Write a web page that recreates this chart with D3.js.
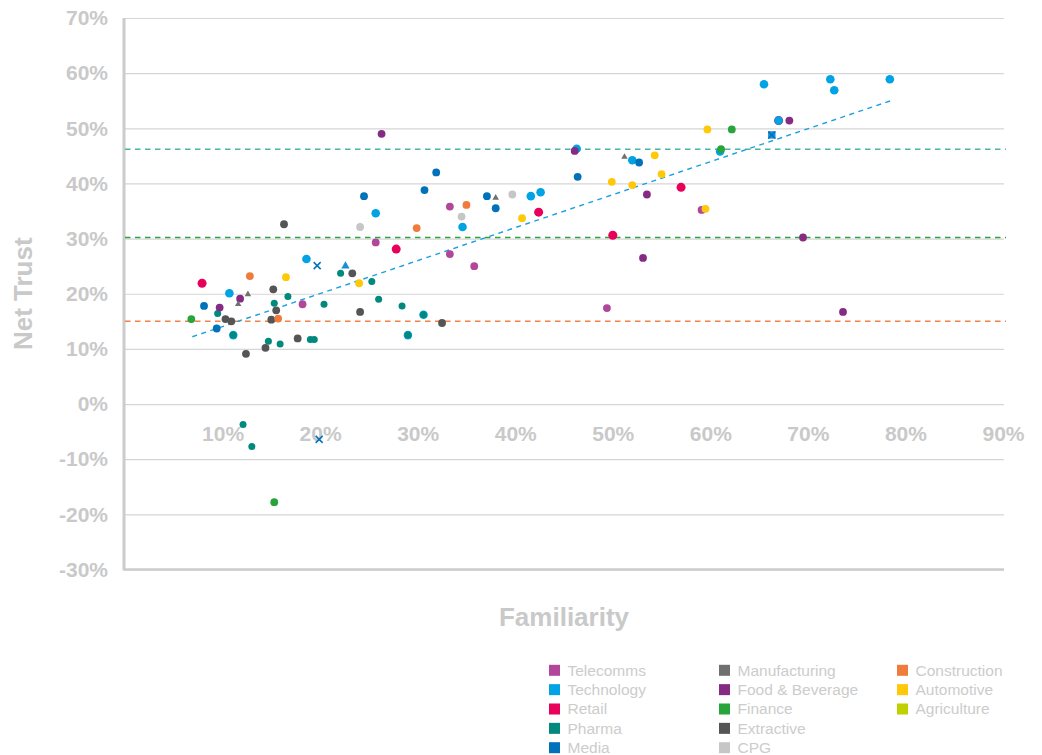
<!DOCTYPE html>
<html>
<head>
<meta charset="utf-8">
<script src="https://cdn.jsdelivr.net/npm/d3@7"></script>
<style>
  body { margin: 0; background: #fff; }
  svg { font-family: "Liberation Sans", Arial, Helvetica, sans-serif; }
</style>
</head>
<body>
<div id="chart"></div>
<script>
// values: [familiarity %, net trust %]
const telecomms = [[18.2, 18.1], [25.7, 29.3], [33.3, 35.8], [33.3, 27.2], [35.8, 25.0], [59.1, 35.2], [49.4, 17.4]];
const technology = [[18.6, 26.3], [10.7, 20.1], [25.7, 34.6], [34.6, 32.1], [41.6, 37.7], [42.6, 38.4], [46.3, 46.3],
  [52.0, 44.2], [61.0, 45.8], [65.5, 58.0], [72.3, 58.9], [72.7, 56.9], [78.4, 58.9], [67.0, 51.4],
  [11.1, 12.5], [30.6, 16.2], [29.0, 12.5]];
const retail = [[7.9, 21.9], [27.8, 28.1], [42.4, 34.8], [50.0, 30.6], [57.0, 39.3], [67.0, 51.4]];
const pharma = [[22.1, 23.7], [25.3, 22.2], [16.7, 19.5], [15.3, 18.3], [20.4, 18.1], [26.0, 19.0], [9.5, 16.4],
  [14.7, 11.4], [15.9, 10.9], [19.0, 11.7], [19.4, 11.7], [28.4, 17.8], [30.6, 16.2], [29.0, 12.5],
  [11.1, 12.5], [12.1, -3.7], [13.0, -7.7]];
const media = [[8.1, 17.8], [9.4, 13.7], [24.5, 37.7], [30.7, 38.8], [31.9, 42.0], [37.1, 37.7], [38.0, 35.5],
  [46.4, 41.2], [52.7, 43.8]];
const manufacturing = [[12.6, 19.9], [11.6, 18.1], [38.0, 37.4], [51.2, 44.8]];
const foodBeverage = [[11.8, 19.1], [9.7, 17.5], [26.3, 49.0], [46.1, 45.9], [53.5, 38.0], [53.1, 26.5],
  [68.1, 51.4], [69.5, 30.2], [73.6, 16.7]];
const finance = [[6.8, 15.4], [15.3, -17.8], [62.2, 49.8], [61.1, 46.2]];
const extractive = [[23.3, 23.7], [15.2, 20.8], [15.5, 17.0], [24.1, 16.7], [10.3, 15.4], [10.9, 15.0], [15.0, 15.3],
  [17.7, 11.9], [14.4, 10.2], [12.4, 9.1], [16.3, 32.6], [32.5, 14.7]];
const cpg = [[24.1, 32.1], [34.5, 34.0], [39.7, 38.0]];
const construction = [[12.8, 23.2], [15.7, 15.5], [29.9, 31.9], [35.0, 36.1]];
const automotive = [[16.5, 23.0], [24.0, 21.9], [40.7, 33.7], [49.9, 40.3], [52.0, 39.7], [54.3, 45.1],
  [55.0, 41.7], [59.7, 49.8], [59.5, 35.4]];
const agriculture = [];

// odd markers
const techTriangle = [[22.6, 25.0]];
const techSquare = [[66.3, 48.8]];
const mediaCross = [[19.7, 25.1], [19.9, -6.4], [66.3, 48.8]];

const sectors = ["Telecomms", "Technology", "Retail", "Pharma", "Media", "Manufacturing",
  "Food & Beverage", "Finance", "Extractive", "CPG", "Construction", "Automotive", "Agriculture"];
const sectorColors = ["#b0479a", "#00a3e3", "#e8005a", "#008a7d", "#0072b9", "#707070",
  "#862b84", "#27a43a", "#555555", "#c6c6c6", "#ef7c3c", "#ffc90a", "#bfd000"];

const xTicks = [10, 20, 30, 40, 50, 60, 70, 80, 90];
const yTicks = [-30, -20, -10, 0, 10, 20, 30, 40, 50, 60, 70];

// benchmark lines and trend line
const refValues = [46.2, 30.2, 15.0];
const refColors = ["#4bb3a6", "#2fa33e", "#f0824a"];
const trendX = [6.9, 78.5];
const trendY = [12.2, 55.0];

const width = 1042, height = 755;
const plotLeft = 124, plotRight = 1004, plotTop = 18, plotBottom = 569.5;
const textGrey = "#c9c9c9";

const svg = d3.select("#chart").append("svg")
  .attr("width", width)
  .attr("height", height);

const x = d3.scaleLinear().domain([0, 90]).range([plotLeft + 1, plotRight - 1]);
const y = d3.scaleLinear().domain([-30, 70]).range([plotBottom, plotTop]);

// gridlines
svg.append("g")
  .attr("transform", `translate(${plotLeft},0)`)
  .call(d3.axisLeft(y).tickValues(yTicks).tickSize(-(plotRight - plotLeft)).tickFormat(""))
  .call(g => g.select(".domain").remove())
  .call(g => g.selectAll("line").attr("stroke", "#d6d6d6").attr("stroke-width", 1.2));

// frame: left and bottom
svg.append("line")
  .attr("x1", plotLeft).attr("x2", plotLeft).attr("y1", plotTop).attr("y2", plotBottom + 1)
  .attr("stroke", "#cccccc").attr("stroke-width", 3);
svg.append("line")
  .attr("x1", plotLeft).attr("x2", plotRight).attr("y1", plotBottom).attr("y2", plotBottom)
  .attr("stroke", "#cccccc").attr("stroke-width", 2.5);

// y labels
svg.append("g")
  .attr("transform", `translate(${plotLeft},0)`)
  .call(d3.axisLeft(y).tickValues(yTicks).tickSize(0).tickPadding(16).tickFormat(d => d + "%"))
  .call(g => g.select(".domain").remove())
  .call(g => g.selectAll("text")
    .attr("fill", textGrey)
    .style("font-size", "21px")
    .style("font-weight", "bold"));

// x labels sit just under the zero line
svg.append("g")
  .attr("transform", `translate(0,${y(0)})`)
  .call(d3.axisBottom(x).tickValues(xTicks).tickSize(0).tickPadding(22).tickFormat(d => d + "%"))
  .call(g => g.select(".domain").remove())
  .call(g => g.selectAll("text")
    .attr("fill", textGrey)
    .style("font-size", "21px")
    .style("font-weight", "bold"));

// benchmark dashed lines
svg.append("g").selectAll("line")
  .data(refValues)
  .join("line")
  .attr("x1", plotLeft + 1).attr("x2", plotRight + 2)
  .attr("y1", d => y(d)).attr("y2", d => y(d))
  .attr("stroke", (d, i) => refColors[i])
  .attr("stroke-width", 1.5)
  .attr("stroke-dasharray", "5.5,4.5");

// trend line
svg.append("line")
  .attr("x1", x(trendX[0])).attr("y1", y(trendY[0]))
  .attr("x2", x(trendX[1])).attr("y2", y(trendY[1]))
  .attr("stroke", "#1aa0e0")
  .attr("stroke-width", 1.4)
  .attr("stroke-dasharray", "5,4.5");

const colorOf = name => sectorColors[sectors.indexOf(name)];

function dots(data, name, r) {
  svg.append("g").selectAll("circle")
    .data(data)
    .join("circle")
    .attr("cx", d => x(d[0]))
    .attr("cy", d => y(d[1]))
    .attr("r", r)
    .attr("fill", colorOf(name));
}

function symbols(data, color, type, size) {
  svg.append("g").selectAll("path")
    .data(data)
    .join("path")
    .attr("transform", d => `translate(${x(d[0])},${y(d[1])})`)
    .attr("d", d3.symbol().type(type).size(size))
    .attr("fill", color);
}

// draw order: wider markers first so stacked points show a ring
dots(retail, "Retail", 4.5);
dots(technology, "Technology", 4.3);
dots(telecomms, "Telecomms", 3.9);
dots(pharma, "Pharma", 3.5);
dots(media, "Media", 3.9);
dots(foodBeverage, "Food & Beverage", 3.9);
dots(finance, "Finance", 3.9);
dots(extractive, "Extractive", 3.9);
dots(cpg, "CPG", 3.9);
dots(construction, "Construction", 3.9);
dots(automotive, "Automotive", 3.9);
dots(agriculture, "Agriculture", 3.9);
dots([technology[13]], "Technology", 3.4);

symbols(manufacturing, colorOf("Manufacturing"), d3.symbolTriangle, 18);
symbols(techTriangle, "#1a8fd4", d3.symbolTriangle, 30);
symbols(techSquare, "#1f8fdc", d3.symbolSquare, 56);

// media crosses
svg.append("g").selectAll("g")
  .data(mediaCross)
  .join("g")
  .attr("transform", d => `translate(${x(d[0])},${y(d[1])})`)
  .call(g => g.append("line").attr("x1", -3.5).attr("y1", -3.5).attr("x2", 3.5).attr("y2", 3.5))
  .call(g => g.append("line").attr("x1", -3.5).attr("y1", 3.5).attr("x2", 3.5).attr("y2", -3.5))
  .selectAll("line")
  .attr("stroke", colorOf("Media"))
  .attr("stroke-width", 1.5);

// axis titles
svg.append("text")
  .attr("transform", `translate(32,${(plotTop + plotBottom) / 2}) rotate(-90)`)
  .attr("text-anchor", "middle")
  .attr("fill", textGrey)
  .style("font-size", "26px")
  .style("font-weight", "bold")
  .text("Net Trust");

svg.append("text")
  .attr("x", (plotLeft + plotRight) / 2)
  .attr("y", 626)
  .attr("text-anchor", "middle")
  .attr("fill", textGrey)
  .style("font-size", "26px")
  .style("font-weight", "bold")
  .text("Familiarity");

// legend, 5 rows per column
const legendCols = [549, 719, 897];
const legend = svg.append("g").selectAll("g")
  .data(sectors)
  .join("g")
  .attr("transform", (d, i) => `translate(${legendCols[Math.floor(i / 5)]},${670.3 + (i % 5) * 19.35})`);

legend.append("rect")
  .attr("x", 0).attr("y", -5.5)
  .attr("width", 11).attr("height", 11)
  .attr("fill", (d, i) => sectorColors[i]);

legend.append("text")
  .attr("x", 18.5)
  .attr("y", 5.4)
  .attr("fill", "#cccccc")
  .style("font-size", "15.5px")
  .text(d => d);
</script>
</body>
</html>
